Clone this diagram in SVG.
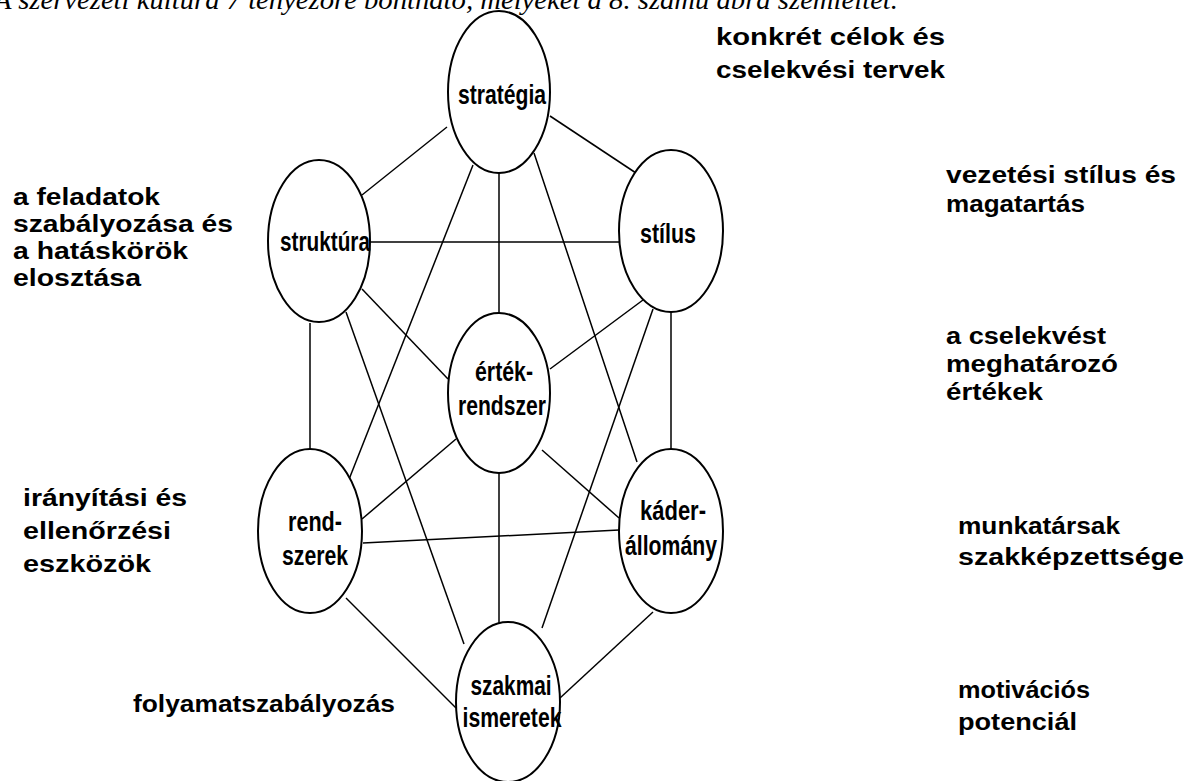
<svg xmlns="http://www.w3.org/2000/svg" width="1189" height="781" viewBox="0 0 1189 781">
<style>
.node ellipse{fill:#fff;stroke:#000;stroke-width:2}
.nl{font-family:"Liberation Sans",Arial,sans-serif;font-weight:bold;font-size:27px;fill:#000;text-anchor:middle}
.sl{font-family:"Liberation Sans",Arial,sans-serif;font-weight:bold;font-size:23px;fill:#000}
#connectors line{stroke:#000;stroke-width:1.5}
.cap{font-family:"Liberation Serif","Times New Roman",serif;font-style:italic;font-size:28px;fill:#000}
</style>
<rect width="1189" height="781" fill="#fff"/>
<text class="cap" x="-6" y="9" textLength="904" lengthAdjust="spacingAndGlyphs">A szervezeti kultúra 7 tényezőre bontható, melyeket a 8. számú ábra szemléltet.</text>
<g id="connectors">
<line x1="447" y1="127" x2="362" y2="195"/>
<line x1="550" y1="116" x2="636" y2="173"/>
<line x1="499" y1="173" x2="499" y2="313"/>
<line x1="473" y1="165" x2="346" y2="487"/>
<line x1="534" y1="153" x2="637" y2="462"/>
<line x1="370" y1="242" x2="619" y2="242"/>
<line x1="362" y1="289" x2="448" y2="379"/>
<line x1="310" y1="323" x2="310" y2="449"/>
<line x1="346" y1="312" x2="464" y2="644"/>
<line x1="643" y1="300" x2="550" y2="369"/>
<line x1="653" y1="309" x2="542" y2="628"/>
<line x1="671" y1="312" x2="671" y2="450"/>
<line x1="456" y1="439" x2="362" y2="519"/>
<line x1="542" y1="450" x2="619" y2="518"/>
<line x1="499" y1="473" x2="499" y2="624"/>
<line x1="363" y1="543" x2="619" y2="530"/>
<line x1="346" y1="598" x2="456" y2="708"/>
<line x1="653" y1="612" x2="560" y2="698"/>
</g>
<g id="strategia" class="node">
<ellipse cx="499" cy="92" rx="51" ry="81" fill="none"/>
<text class="nl" x="502" y="104" textLength="88" lengthAdjust="spacingAndGlyphs">stratégia</text>
</g>
<g id="struktura" class="node">
<ellipse cx="319" cy="241" rx="51" ry="81" fill="none"/>
<text class="nl" x="325" y="251" textLength="90" lengthAdjust="spacingAndGlyphs">struktúra</text>
</g>
<g id="stilus" class="node">
<ellipse cx="671" cy="231" rx="52" ry="81" fill="none"/>
<text class="nl" x="668" y="243" textLength="56" lengthAdjust="spacingAndGlyphs">stílus</text>
</g>
<g id="ertekrendszer" class="node">
<ellipse cx="499" cy="393" rx="51" ry="80" fill="none"/>
<text class="nl" x="504" y="381" textLength="58" lengthAdjust="spacingAndGlyphs">érték-</text>
<text class="nl" x="502" y="415" textLength="88" lengthAdjust="spacingAndGlyphs">rendszer</text>
</g>
<g id="rendszerek" class="node">
<ellipse cx="310" cy="531" rx="52" ry="82" fill="none"/>
<text class="nl" x="315" y="531" textLength="54" lengthAdjust="spacingAndGlyphs">rend-</text>
<text class="nl" x="315" y="565" textLength="66" lengthAdjust="spacingAndGlyphs">szerek</text>
</g>
<g id="kaderallomany" class="node">
<ellipse cx="671" cy="531" rx="52" ry="82" fill="none"/>
<text class="nl" x="673" y="520" textLength="66" lengthAdjust="spacingAndGlyphs">káder-</text>
<text class="nl" x="671" y="555" textLength="92" lengthAdjust="spacingAndGlyphs">állomány</text>
</g>
<g id="szakmai" class="node">
<ellipse cx="508" cy="702" rx="52" ry="80" fill="none"/>
<text class="nl" x="511" y="695" textLength="81" lengthAdjust="spacingAndGlyphs">szakmai</text>
<text class="nl" x="512" y="727" textLength="99" lengthAdjust="spacingAndGlyphs">ismeretek</text>
</g>
<g id="labels">
<text class="sl" x="716" y="45" textLength="229" lengthAdjust="spacingAndGlyphs">konkrét célok és</text>
<text class="sl" x="716" y="78" textLength="229" lengthAdjust="spacingAndGlyphs">cselekvési tervek</text>
<text class="sl" x="946" y="183" textLength="230" lengthAdjust="spacingAndGlyphs">vezetési stílus és</text>
<text class="sl" x="946" y="212" textLength="139" lengthAdjust="spacingAndGlyphs">magatartás</text>
<text class="sl" x="946" y="344" textLength="160" lengthAdjust="spacingAndGlyphs">a cselekvést</text>
<text class="sl" x="946" y="372" textLength="172" lengthAdjust="spacingAndGlyphs">meghatározó</text>
<text class="sl" x="946" y="400" textLength="97" lengthAdjust="spacingAndGlyphs">értékek</text>
<text class="sl" x="958" y="534" textLength="162" lengthAdjust="spacingAndGlyphs">munkatársak</text>
<text class="sl" x="958" y="565" textLength="226" lengthAdjust="spacingAndGlyphs">szakképzettsége</text>
<text class="sl" x="958" y="698" textLength="132" lengthAdjust="spacingAndGlyphs">motivációs</text>
<text class="sl" x="958" y="730" textLength="119" lengthAdjust="spacingAndGlyphs">potenciál</text>
<text class="sl" x="13" y="205" textLength="147" lengthAdjust="spacingAndGlyphs">a feladatok</text>
<text class="sl" x="13" y="232" textLength="220" lengthAdjust="spacingAndGlyphs">szabályozása és</text>
<text class="sl" x="13" y="259" textLength="175" lengthAdjust="spacingAndGlyphs">a hatáskörök</text>
<text class="sl" x="13" y="286" textLength="128" lengthAdjust="spacingAndGlyphs">elosztása</text>
<text class="sl" x="23" y="506" textLength="164" lengthAdjust="spacingAndGlyphs">irányítási és</text>
<text class="sl" x="23" y="539" textLength="148" lengthAdjust="spacingAndGlyphs">ellenőrzési</text>
<text class="sl" x="23" y="572" textLength="128" lengthAdjust="spacingAndGlyphs">eszközök</text>
<text class="sl" x="133" y="712" textLength="262" lengthAdjust="spacingAndGlyphs">folyamatszabályozás</text>
</g>
</svg>
